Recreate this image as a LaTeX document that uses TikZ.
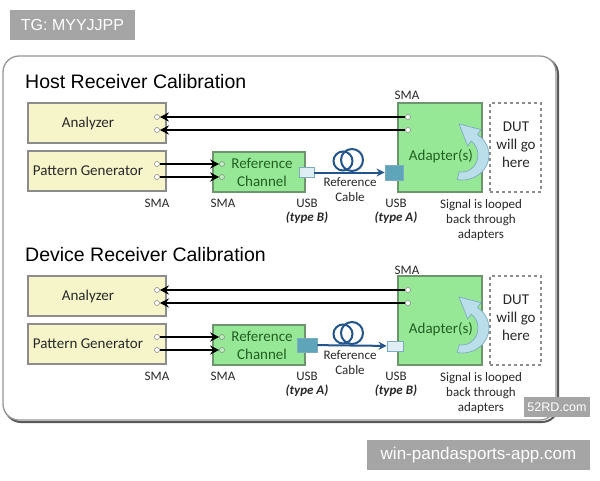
\documentclass[tikz,border=0pt]{standalone}
\usepackage{fontspec}
\setmainfont{Carlito}
\newfontfamily\arialfont{Liberation Sans}
\usepackage{tikz}
\usetikzlibrary{arrows.meta}
\definecolor{panelbd}{RGB}{150,150,150}
\definecolor{shadowc}{RGB}{90,90,90}
\definecolor{boxgray}{RGB}{140,140,140}
\definecolor{yelfill}{RGB}{246,245,202}
\definecolor{grnfill}{RGB}{150,232,150}
\definecolor{grnbd}{RGB}{110,150,110}
\definecolor{grntxt}{RGB}{35,95,35}
\definecolor{txtdk}{RGB}{40,40,40}
\definecolor{usblt}{RGB}{222,238,242}
\definecolor{usbdk}{RGB}{95,165,185}
\definecolor{cable}{RGB}{35,85,140}
\definecolor{loopfill}{RGB}{186,222,234}
\definecolor{loopbd}{RGB}{125,172,192}
\definecolor{wmgray}{RGB}{165,165,165}

\begin{document}
\begin{tikzpicture}[x=1pt, y=-1pt,
    box/.style={draw=boxgray, line width=1.2pt, inner sep=0pt},
    yelbox/.style={box, fill=yelfill, minimum width=138pt, minimum height=40pt},
    grnbox/.style={box, draw=grnbd, fill=grnfill},
    dutbox/.style={box, dashed, fill=white, minimum width=51pt, minimum height=89pt},
    port/.style={circle, draw=boxgray, fill=white, line width=0.6pt, inner sep=0pt, minimum size=5pt},
    usbport/.style={draw=loopbd, line width=0.8pt, inner sep=0pt},
    sig/.style={line width=2.2pt, -{Stealth[length=9pt,width=9pt]}},
    cablearr/.style={cable, line width=2pt, -{Stealth[length=8pt,width=8pt]}},
    coil/.style={cable, line width=2pt},
    boxtxt/.style={font=\fontsize{15}{18}\selectfont, text=txtdk, align=center, inner sep=0pt},
    lbl/.style={font=\fontsize{13}{15}\selectfont, text=txtdk, align=center, inner sep=0pt},
    typelbl/.style={lbl, font=\fontsize{13}{15}\selectfont\bfseries\itshape},
    ttl/.style={font=\arialfont\fontsize{19.5}{22}\selectfont, anchor=west, inner sep=0pt},
    loopar/.style={draw=loopbd, fill=loopfill, line width=0.7pt},
    wm/.style={fill=wmgray, text=white, inner sep=0pt, font=\arialfont}]
  \fill[white] (0,0) rectangle (600,480);
  \useasboundingbox (0,0) rectangle (600,480);

  % panel
  \draw[rounded corners=16pt, line width=2pt, shadowc] (5,58) rectangle (558,422);
  \draw[rounded corners=16pt, line width=1.3pt, panelbd, fill=white] (3,56) rectangle (556,420);

  % host receiver calibration
  \node[ttl] (hosttitle) at (25,82) {Host Receiver Calibration};
  \node[yelbox] (hana) at (97,123) {};
  \node[boxtxt] (hanatxt) at (88,123) {Analyzer};
  \node[yelbox] (hpg) at (97,171) {};
  \node[boxtxt] (hpgtxt) at (88,171) {Pattern Generator};
  \node[grnbox, minimum width=92pt, minimum height=40pt] (hrc) at (259,172) {};
  \node[boxtxt, text=grntxt] (hrctxt) at (262,172) {Reference\\Channel};
  \node[grnbox, minimum width=84pt, minimum height=89pt] (had) at (440,147.5) {};
  \node[boxtxt, text=grntxt] (hadtxt) at (441,156) {Adapter(s)};
  \node[dutbox] (hdut) at (515.5,147.5) {};
  \node[boxtxt] (hduttxt) at (516,145) {DUT\\will go\\here};
  \begin{scope}[shift={(462,155)}]
    \draw[loopar] (100:16 and 17) arc[start angle=100, end angle=-55, x radius=16, y radius=17]
      -- (-55:10 and 11) -- (-3,-31) -- (-55:33 and 31) -- (-55:27 and 25)
      arc[start angle=-55, end angle=100, x radius=27, y radius=25] -- cycle;
  \end{scope}
  \node[port] (hana1) at (157,117) {};
  \node[port] (hana2) at (157,130) {};
  \node[port] (hpg1) at (157,164) {};
  \node[port] (hpg2) at (157,177) {};
  \node[port, fill=grnfill!60] (hrc1) at (222,164) {};
  \node[port, fill=grnfill!60] (hrc2) at (222,177) {};
  \node[port] (had1) at (408,117) {};
  \node[port] (had2) at (408,130) {};
  \draw[sig] (had1) -- (hana1);
  \draw[sig] (had2) -- (hana2);
  \draw[sig] (hpg1) -- (hrc1);
  \draw[sig] (hpg2) -- (hrc2);
  \node[usbport, fill=usblt, minimum width=15pt, minimum height=10pt] (husbB) at (306.5,172.5) {};
  \node[usbport, fill=usbdk, minimum width=18pt, minimum height=15pt] (husbA) at (394,172.5) {};
  \draw[coil] (343,161) circle[radius=9.5];
  \draw[coil] (352,160) circle[radius=11];
  \draw[cablearr] (husbB) -- (husbA);
  \node[lbl] (hsma1) at (157,203) {SMA};
  \node[lbl] (hsma2) at (223,203) {SMA};
  \node[lbl] (hsma3) at (407,95) {SMA};
  \node[lbl] (hcbl) at (350,189.5) {Reference\\Cable};
  \node[lbl] (husb1) at (307,203) {USB};
  \node[typelbl] (htyp1) at (307,218) {(type B)};
  \node[lbl] (husb2) at (396,203) {USB};
  \node[typelbl] (htyp2) at (396,218) {(type A)};
  \node[lbl] (hloop) at (481,220) {Signal is looped\\back through\\adapters};

  % device receiver calibration
  \begin{scope}[shift={(0,173)}]
  \node[ttl] (devtitle) at (25,82) {Device Receiver Calibration};
  \node[yelbox] (dana) at (97,123) {};
  \node[boxtxt] (danatxt) at (88,123) {Analyzer};
  \node[yelbox] (dpg) at (97,171) {};
  \node[boxtxt] (dpgtxt) at (88,171) {Pattern Generator};
  \node[grnbox, minimum width=92pt, minimum height=40pt] (drc) at (259,172) {};
  \node[boxtxt, text=grntxt] (drctxt) at (262,172) {Reference\\Channel};
  \node[grnbox, minimum width=84pt, minimum height=89pt] (dad) at (440,147.5) {};
  \node[boxtxt, text=grntxt] (dadtxt) at (441,156) {Adapter(s)};
  \node[dutbox] (ddut) at (515.5,147.5) {};
  \node[boxtxt] (dduttxt) at (516,145) {DUT\\will go\\here};
  \begin{scope}[shift={(462,155)}]
    \draw[loopar] (100:16 and 17) arc[start angle=100, end angle=-55, x radius=16, y radius=17]
      -- (-55:10 and 11) -- (-3,-31) -- (-55:33 and 31) -- (-55:27 and 25)
      arc[start angle=-55, end angle=100, x radius=27, y radius=25] -- cycle;
  \end{scope}
  \node[port] (dana1) at (157,117) {};
  \node[port] (dana2) at (157,130) {};
  \node[port] (dpg1) at (157,164) {};
  \node[port] (dpg2) at (157,177) {};
  \node[port, fill=grnfill!60] (drc1) at (222,164) {};
  \node[port, fill=grnfill!60] (drc2) at (222,177) {};
  \node[port] (dad1) at (408,117) {};
  \node[port] (dad2) at (408,130) {};
  \draw[sig] (dad1) -- (dana1);
  \draw[sig] (dad2) -- (dana2);
  \draw[sig] (dpg1) -- (drc1);
  \draw[sig] (dpg2) -- (drc2);
  \node[usbport, fill=usbdk, minimum width=20pt, minimum height=14pt] (dusbA) at (307,172) {};
  \node[usbport, fill=usblt, minimum width=16pt, minimum height=10pt] (dusbB) at (395,173) {};
  \draw[coil] (343,161) circle[radius=9.5];
  \draw[coil] (352,160) circle[radius=11];
  \draw[cablearr] (dusbA) -- (dusbB);
  \node[lbl] (dsma1) at (157,203) {SMA};
  \node[lbl] (dsma2) at (223,203) {SMA};
  \node[lbl] (dsma3) at (407,97) {SMA};
  \node[lbl] (dcbl) at (350,189.5) {Reference\\Cable};
  \node[lbl] (dusb1) at (307,203) {USB};
  \node[typelbl] (dtyp1) at (307,218) {(type A)};
  \node[lbl] (dusb2) at (396,203) {USB};
  \node[typelbl] (dtyp2) at (396,218) {(type B)};
  \node[lbl] (dloop) at (481,220) {Signal is looped\\back through\\adapters};
  \end{scope}

  % marks
  \node[wm, minimum width=125pt, minimum height=30pt, font=\arialfont\fontsize{16}{18}\selectfont] (tgmark) at (72.5,25) {TG: MYYJJPP};
  \node[wm, minimum width=66pt, minimum height=20pt, font=\arialfont\fontsize{12.5}{14}\selectfont] (rdmark) at (557,407) {52RD.com};
  \node[wm, minimum width=223pt, minimum height=30pt, font=\arialfont\fontsize{17}{19}\selectfont] (pandamark) at (478.5,455) {win-pandasports-app.com};
\end{tikzpicture}
\end{document}
